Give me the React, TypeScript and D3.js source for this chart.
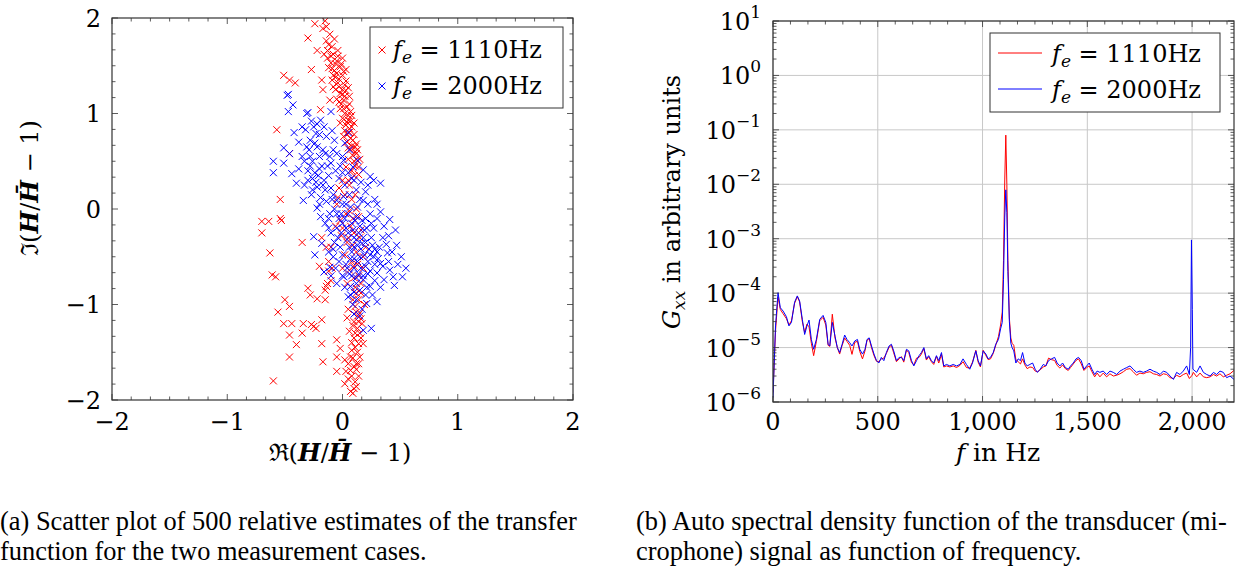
import React from "react"
import * as d3 from "d3"

// scatter: relative transfer function estimates [Re, Im]
const scatter1110: [number, number][] = [
  [-0.24, 1.94], [-0.15, 1.97], [-0.14, 1.91], [-0.17, 1.89], [-0.3, 1.79], [-0.14, 1.76], [-0.22, 1.66],
  [-0.16, 1.62], [-0.09, 1.7], [-0.08, 1.62], [0.0, 1.58], [-0.13, 1.58], [-0.1, 1.53], [-0.05, 1.55],
  [-0.12, 1.48], [-0.09, 1.47], [-0.05, 1.42], [-0.02, 1.49], [0.01, 1.44], [-0.06, 1.38], [-0.03, 1.36],
  [0.0, 1.4], [-0.27, 1.46], [-0.51, 1.4], [-0.46, 1.35], [-0.41, 1.32], [-0.18, 1.35], [-0.17, 1.25],
  [-0.04, 1.32], [-0.08, 1.28], [0.02, 1.3], [-0.02, 1.21], [0.03, 1.24], [0.06, 1.18], [-0.05, 1.15],
  [0.01, 1.14], [-0.11, 1.14], [0.04, 1.07], [-0.02, 1.05], [0.02, 1.0], [0.07, 1.02], [-0.19, 1.04],
  [0.05, 0.93], [0.0, 0.95], [0.08, 0.86], [0.03, 0.88], [0.06, 0.8], [0.01, 0.76], [0.09, 0.72],
  [0.04, 0.7], [-0.57, 0.83], [0.11, 0.65], [0.07, 0.62], [0.12, 0.58], [-0.46, 0.58], [0.14, 0.44],
  [0.1, 0.5], [0.05, 0.52], [-0.01, 1.1], [0.03, 1.34], [-0.07, 1.45], [0.05, 0.98],
  [-0.11, 1.83], [-0.07, 1.78], [-0.12, 1.72], [-0.04, 1.66], [-0.1, 1.6], [-0.06, 1.52], [-0.01, 1.52],
  [-0.08, 1.4], [0.03, 1.46], [-0.03, 1.28], [0.0, 1.25], [0.05, 1.27], [0.02, 1.18], [-0.03, 1.12],
  [0.06, 1.1], [0.01, 1.05], [0.08, 0.98], [0.04, 0.91], [0.1, 0.9], [0.06, 0.84], [0.02, 0.82],
  [0.1, 0.78], [0.07, 0.74], [0.12, 0.68], [0.05, 0.64], [0.13, 0.62], [0.09, 0.56], [0.15, 0.52],
  [0.11, 0.45], [0.08, 0.4], [0.14, 0.36], [0.03, 0.44], [-0.06, 1.25], [0.0, 1.2], [-0.02, 0.9],
  [0.04, 0.78], [0.08, 0.66], [0.11, 0.6], [0.12, 0.52], [-0.09, 1.35], [-0.04, 1.6], [-0.13, 1.66],
  [0.07, 0.92],
  [0.1, 0.35], [0.06, 0.25], [-0.03, 0.22], [0.02, 0.15], [0.08, 0.1], [-0.05, 0.05], [0.12, 0.0],
  [0.03, -0.05], [-0.02, -0.12], [0.07, -0.18], [0.1, -0.25], [0.15, -0.3], [0.04, -0.35], [-0.1, -0.4],
  [0.12, -0.45], [0.18, -0.5], [0.08, -0.55], [0.0, -0.62], [-0.12, -0.65], [0.14, -0.7], [-0.1, -0.75],
  [0.11, -0.82], [0.16, -0.88], [-0.14, -0.81], [0.09, -0.95], [-0.14, -0.4], [-0.12, -0.55],
  [-0.09, -0.62], [-0.13, -0.78], [-0.15, -0.85], [0.05, 0.3], [0.09, -0.1], [-0.01, -0.28],
  [0.0, 0.3], [0.11, 0.15], [-0.04, 0.12], [0.06, -0.02], [0.14, -0.08], [0.0, -0.2], [0.16, -0.22],
  [0.05, -0.3], [-0.06, -0.18], [0.09, -0.38], [0.2, -0.4], [0.02, -0.48], [0.13, -0.58], [0.06, -0.64],
  [0.18, -0.62], [0.1, -0.72], [0.04, -0.78], [-0.2, -0.6], [-0.18, -0.3], [0.1, -0.6], [0.16, -0.78],
  [-0.54, 0.1], [-0.7, -0.13], [-0.64, -0.13], [-0.53, -0.12], [-0.54, -0.1], [-0.7, -0.25],
  [-0.63, -0.46], [-0.61, -0.69], [-0.58, -0.71], [-0.35, -0.35], [-0.5, -0.95], [-0.46, -1.02],
  [-0.56, -1.08], [-0.3, -0.83], [-0.28, -0.9], [-0.22, -0.94], [-0.15, -0.95], [-0.51, -1.2],
  [-0.44, -1.2], [-0.34, -1.2], [-0.27, -1.21], [-0.23, -1.25], [-0.18, -1.16], [-0.46, -1.32],
  [-0.35, -1.3], [-0.4, -1.42], [-0.46, -1.55], [-0.6, -1.8], [-0.18, -1.41], [-0.05, -1.37],
  [-0.02, -1.46], [-0.17, -1.6], [-0.05, -1.7], [-0.25, -1.23], [-0.05, -1.55],
  [0.02, -1.58], [0.07, -1.69], [0.09, -1.56], [0.02, -1.83], [0.07, -1.91], [0.11, -1.81],
  [0.12, -1.62], [0.14, -1.41], [0.18, -1.41], [0.15, -1.3], [0.14, -1.18], [0.04, -1.14],
  [0.11, -1.02], [0.15, -1.09], [0.12, -0.88], [0.09, -1.22], [0.13, -1.5], [0.08, -1.75],
  [0.1, -1.88], [0.05, -1.05], [0.17, -1.2], [0.1, -1.35], [0.06, -1.28], [0.12, -1.68], [0.08, -1.48],
  [0.14, -0.95], [0.19, -1.0], [0.12, -1.08], [0.16, -1.15], [0.1, -1.18], [0.13, -1.25], [0.08, -1.4],
  [0.16, -1.35], [0.11, -1.45], [0.15, -1.55], [0.05, -1.62], [0.1, -1.65], [0.14, -1.75], [0.05, -1.78],
  [0.09, -1.93], [0.12, -1.86], [0.13, -1.12], [0.11, -1.3], [0.14, -1.62], [0.07, -1.55], [0.03, -1.7],
]

const scatter2000: [number, number][] = [
  [-0.48, 1.19], [-0.47, 1.2], [-0.43, 1.09], [-0.47, 1.02], [-0.31, 1.0], [-0.3, 1.01], [-0.19, 0.93],
  [-0.35, 0.86], [-0.32, 0.83], [-0.25, 0.86], [-0.22, 0.89], [-0.16, 0.86], [-0.1, 1.02], [-0.51, 0.64],
  [-0.46, 0.58], [-0.6, 0.5], [-0.51, 0.48], [-0.6, 0.38], [-0.44, 0.37], [-0.4, 0.27], [-0.34, 0.09],
  [-0.27, 0.15], [-0.22, 0.23], [-0.16, 0.3], [-0.28, 0.72], [-0.24, 0.69], [-0.17, 0.62], [-0.14, 0.76],
  [-0.11, 0.55], [0.02, 0.69], [0.06, 0.62], [0.01, 0.51], [0.13, 0.51], [0.18, 0.41], [0.24, 0.34],
  [0.33, 0.27], [0.27, 0.3], [-0.22, 0.01], [-0.19, -0.08], [-0.25, -0.29], [-0.18, -0.36],
  [-0.24, -0.48], [-0.11, -0.05], [-0.05, 0.09], [0.01, 0.13], [0.07, 0.02], [0.13, 0.02], [0.18, 0.09],
  [0.24, -0.05], [0.33, -0.03], [0.41, -0.11], [0.46, -0.22], [0.36, -0.18], [0.39, -0.46],
  [0.33, -0.57], [0.41, -0.64], [0.44, -0.71], [0.52, -0.71], [0.51, -0.5], [-0.16, -0.66],
  [-0.11, -0.61], [-0.05, -0.78], [0.01, -0.71], [0.07, -0.81], [0.12, -0.78], [0.18, -0.74],
  [0.24, -0.81], [0.3, -0.67], [0.05, -0.92], [0.12, -0.95], [0.21, -0.99], [0.3, -0.97],
  [0.18, -1.27], [0.25, -1.25], [-0.05, -0.2], [0.0, -0.15], [0.05, -0.25], [0.1, -0.3], [0.15, -0.18],
  [0.2, -0.35], [-0.02, -0.4], [0.08, -0.45], [0.15, -0.5], [0.22, -0.55], [0.03, -0.58], [-0.08, -0.5],
  [0.1, -0.62], [0.25, -0.3], [-0.1, -0.25], [-0.15, -0.15], [-0.2, 0.05], [-0.08, 0.15], [0.02, 0.25],
  [-0.12, 0.35], [-0.18, 0.45], [-0.06, 0.4], [0.05, 0.38], [0.12, 0.2], [0.2, 0.18], [0.28, 0.1],
  [0.3, -0.1], [0.2, -0.1], [0.05, -0.05], [-0.3, 0.4], [-0.35, 0.55], [-0.26, 0.5], [-0.2, 0.55],
  [-0.38, 0.7], [-0.29, 0.62], [-0.13, 0.45], [-0.03, 0.32], [0.09, 0.44], [0.16, 0.28], [0.22, 0.05],
  [0.35, -0.3], [0.28, -0.42], [0.16, -0.62], [0.06, -0.68], [-0.03, -0.55], [0.13, -0.38],
  [0.19, -0.22], [0.27, -0.2], [0.38, -0.37], [0.31, -0.52], [0.24, -0.65], [0.1, -0.87], [0.17, -1.05],
  [-0.07, -0.35], [-0.12, -0.1], [-0.26, 0.32], [-0.33, 0.25], [-0.08, 0.62], [0.0, 0.05], [0.11, -0.12],
  [-0.28, 0.45], [-0.24, 0.38], [-0.3, 0.3], [-0.21, 0.35], [-0.26, 0.2], [-0.15, 0.2], [-0.19, 0.12],
  [-0.1, 0.22], [-0.14, 0.08], [-0.07, 0.0], [-0.03, -0.1], [0.03, -0.2], [0.08, -0.15], [0.14, -0.25],
  [0.12, -0.08], [0.18, -0.3], [0.23, -0.42], [0.04, -0.32], [-0.04, -0.3], [0.0, -0.48], [0.07, -0.52],
  [0.13, -0.55], [0.19, -0.48], [0.27, -0.5], [0.2, -0.6], [0.14, -0.68], [0.08, -0.7], [0.02, -0.82],
  [0.15, -0.85], [0.21, -0.82], [0.26, -0.9], [0.09, -1.0], [-0.1, -0.7], [-0.12, -0.45], [-0.06, -0.62],
  [0.32, -0.4], [0.35, -0.6], [0.28, -0.75], [0.4, -0.28], [0.25, -0.15], [0.3, 0.05], [0.22, 0.25],
  [0.15, 0.1], [0.1, 0.3], [0.06, 0.15], [-0.02, 0.45], [-0.05, 0.58], [-0.2, 0.78], [-0.33, 0.5],
  [-0.38, 0.42], [-0.27, 0.92], [-0.23, 0.79], [0.05, 0.8], [-0.07, 0.72], [0.0, 0.55], [0.1, -0.4],
  [0.16, -0.42], [-0.01, -0.05], [0.28, -0.58], [0.36, -0.74], [0.47, -0.38], [0.55, -0.62],
  [0.45, -0.8], [0.15, -1.12], [0.1, -1.1],
  [0.02, -0.1], [0.09, -0.22], [0.17, -0.12], [0.21, -0.2], [0.26, -0.38], [0.12, -0.32], [0.06, -0.4],
  [-0.01, -0.25], [0.17, -0.36], [0.24, -0.48], [0.3, -0.45], [0.1, -0.52], [0.04, -0.62], [0.18, -0.7],
  [0.22, -0.68], [0.12, -0.72], [0.07, -0.9], [0.2, -0.9], [-0.09, 0.1], [-0.17, 0.25], [-0.23, 0.28],
  [-0.2, 0.42], [-0.1, 0.48], [-0.15, 0.58], [-0.28, 0.55], [-0.31, 0.65], [-0.22, 0.65], [-0.42, 0.8],
  [-0.09, 0.82], [0.0, 0.38], [0.08, 0.32], [0.03, 0.05], [-0.05, -0.05], [-0.12, -0.2], [-0.08, -0.42],
  [0.0, -0.7], [0.33, -0.82], [0.4, -0.55], [0.43, -0.45], [0.48, -0.58],
]

// spectra: [f in Hz, G_xx]
const spectrum1110: [number, number][] = [
  [0, 1.5e-6], [12, 2.0e-5], [24, 8.5e-5], [35, 5.0e-5], [48, 4.2e-5], [64, 3.4e-5], [76, 2.6e-5],
  [88, 3.1e-5], [103, 6.5e-5], [116, 8.6e-5], [127, 6.9e-5], [140, 3.0e-5], [151, 1.9e-5], [162, 2.7e-5],
  [172, 2.4e-5], [183, 1.2e-5], [194, 7.1e-6], [207, 1.3e-5], [223, 3.1e-5], [239, 3.6e-5], [252, 2.6e-5],
  [263, 1.1e-5], [271, 1.05e-5], [283, 4.1e-5], [296, 1.5e-5], [307, 1.0e-5], [318, 7.6e-6], [330, 1.1e-5],
  [342, 1.5e-5], [353, 1.3e-5], [366, 1.1e-5], [377, 7.5e-6], [390, 1.25e-5], [403, 1.3e-5], [414, 8.5e-6],
  [427, 6.2e-6], [439, 8.7e-6], [449, 1.38e-5], [459, 1.45e-5], [470, 1.0e-5], [482, 7.1e-6], [494, 5.6e-6],
  [505, 5.5e-6], [517, 6.2e-6], [529, 6.4e-6], [541, 7.8e-6], [554, 1.02e-5], [565, 1.1e-5], [576, 8.0e-6],
  [589, 5.5e-6], [602, 6.2e-6], [613, 6.8e-6], [624, 5.4e-6], [637, 9.0e-6], [648, 8.1e-6], [661, 5.3e-6],
  [672, 4.8e-6], [685, 6.4e-6], [697, 6.6e-6], [708, 7.6e-6], [720, 9.5e-6], [732, 5.9e-6], [743, 6.8e-6],
  [756, 5.5e-6], [767, 4.9e-6], [780, 6.9e-6], [791, 5.2e-6], [804, 7.5e-6], [815, 4.4e-6], [828, 4.6e-6],
  [844, 4.4e-6], [860, 4.6e-6], [876, 4.3e-6], [892, 4.7e-6], [907, 5.5e-6], [923, 4.3e-6], [939, 4.2e-6],
  [952, 5.4e-6], [968, 8.9e-6], [979, 5.4e-6], [990, 4.4e-6], [1003, 8.9e-6], [1016, 7.1e-6], [1027, 6.0e-6],
  [1038, 6.2e-6], [1051, 7.8e-6], [1063, 1.1e-5], [1076, 1.6e-5], [1086, 2.6e-5], [1094, 4.5e-5],
  [1100, 4.0e-4], [1106, 1.2e-2], [1111, 8.0e-2], [1116, 1.0e-2], [1121, 4.0e-4], [1128, 3.5e-5],
  [1135, 1.5e-5], [1141, 1.2e-5], [1149, 1.1e-5], [1159, 6.0e-6], [1170, 5.5e-6], [1181, 5.0e-6],
  [1191, 6.2e-6], [1202, 4.8e-6], [1213, 4.1e-6], [1226, 4.4e-6], [1239, 4.3e-6], [1251, 3.7e-6],
  [1262, 3.6e-6], [1275, 3.9e-6], [1290, 4.4e-6], [1302, 4.6e-6], [1315, 6.4e-6], [1329, 6.0e-6],
  [1344, 5.8e-6], [1356, 4.7e-6], [1369, 4.2e-6], [1382, 4.8e-6], [1395, 4.1e-6], [1409, 3.8e-6],
  [1420, 4.3e-6], [1433, 5.0e-6], [1446, 5.8e-6], [1458, 6.2e-6], [1471, 5.0e-6], [1484, 3.8e-6],
  [1497, 4.3e-6], [1509, 4.6e-6], [1522, 3.6e-6], [1535, 2.9e-6], [1547, 3.4e-6], [1560, 2.9e-6],
  [1576, 3.4e-6], [1592, 2.9e-6], [1608, 3.3e-6], [1624, 3.0e-6], [1640, 3.1e-6], [1656, 3.3e-6],
  [1672, 3.6e-6], [1688, 4.0e-6], [1704, 4.1e-6], [1719, 3.6e-6], [1735, 3.1e-6], [1751, 3.4e-6],
  [1767, 3.3e-6], [1783, 3.5e-6], [1799, 3.6e-6], [1815, 3.3e-6], [1831, 3.2e-6], [1847, 3.0e-6],
  [1863, 3.3e-6], [1879, 3.2e-6], [1895, 2.8e-6], [1911, 2.7e-6], [1926, 3.1e-6], [1942, 2.9e-6],
  [1958, 3.2e-6], [1974, 3.4e-6], [1987, 2.7e-6], [2000, 3.1e-6], [2006, 3.5e-6], [2022, 2.9e-6],
  [2038, 3.4e-6], [2054, 2.9e-6], [2070, 2.8e-6], [2086, 2.9e-6], [2102, 3.2e-6], [2117, 3.0e-6],
  [2133, 3.3e-6], [2149, 2.9e-6], [2165, 3.1e-6], [2181, 3.3e-6], [2200, 3.8e-6],
]

const spectrum2000: [number, number][] = [
  [0, 1.2e-6], [12, 2.5e-5], [24, 1.02e-4], [35, 5.4e-5], [48, 4.7e-5], [64, 3.7e-5], [76, 2.5e-5],
  [88, 2.9e-5], [103, 6.8e-5], [116, 8.9e-5], [127, 7.2e-5], [140, 3.3e-5], [151, 1.74e-5], [162, 2.5e-5],
  [172, 3.2e-5], [183, 1.41e-5], [194, 9.3e-6], [207, 1.41e-5], [223, 3.3e-5], [239, 3.9e-5], [252, 2.9e-5],
  [263, 1.15e-5], [271, 1.07e-5], [283, 2.9e-5], [296, 1.62e-5], [307, 1.0e-5], [318, 8.1e-6], [330, 1.15e-5],
  [342, 1.7e-5], [353, 1.41e-5], [366, 1.23e-5], [377, 1.07e-5], [390, 1.32e-5], [403, 1.41e-5],
  [414, 9.3e-6], [427, 7.6e-6], [439, 9.3e-6], [449, 1.41e-5], [459, 1.51e-5], [470, 1.07e-5], [482, 7.6e-6],
  [494, 5.75e-6], [505, 5.2e-6], [517, 6.6e-6], [529, 5.75e-6], [541, 8.1e-6], [554, 1.07e-5], [565, 1.15e-5],
  [576, 8.7e-6], [589, 5.75e-6], [602, 6.6e-6], [613, 6.6e-6], [624, 5.75e-6], [637, 9.3e-6], [648, 8.7e-6],
  [661, 5.75e-6], [672, 4.6e-6], [685, 5.75e-6], [697, 7.1e-6], [708, 8.1e-6], [720, 1.0e-5], [732, 6.2e-6],
  [743, 7.1e-6], [756, 5.75e-6], [767, 5.2e-6], [780, 7.1e-6], [791, 5.75e-6], [804, 8.1e-6], [815, 4.6e-6],
  [828, 4.9e-6], [844, 4.6e-6], [860, 4.9e-6], [876, 4.6e-6], [892, 4.9e-6], [907, 6.2e-6], [923, 4.9e-6],
  [939, 4.0e-6], [952, 5.2e-6], [968, 8.7e-6], [979, 5.75e-6], [990, 4.6e-6], [1003, 8.7e-6], [1016, 7.6e-6],
  [1027, 6.2e-6], [1038, 6.6e-6], [1051, 8.1e-6], [1063, 1.15e-5], [1076, 1.41e-5], [1086, 2.2e-5],
  [1094, 2.9e-5], [1100, 1.8e-4], [1106, 2.5e-3], [1111, 7.9e-3], [1116, 3.0e-3], [1121, 2.5e-4],
  [1128, 3.0e-5], [1135, 1.2e-5], [1141, 1.0e-5], [1149, 8.7e-6], [1159, 5.2e-6], [1170, 6.2e-6],
  [1181, 5.75e-6], [1191, 8.1e-6], [1202, 5.2e-6], [1213, 4.6e-6], [1226, 4.9e-6], [1239, 5.2e-6],
  [1251, 4.0e-6], [1262, 3.5e-6], [1275, 4.0e-6], [1290, 4.9e-6], [1302, 4.6e-6], [1315, 5.75e-6],
  [1329, 6.2e-6], [1344, 6.6e-6], [1356, 5.2e-6], [1369, 4.6e-6], [1382, 5.2e-6], [1395, 4.3e-6],
  [1409, 4.0e-6], [1420, 4.6e-6], [1433, 5.2e-6], [1446, 6.2e-6], [1458, 6.6e-6], [1471, 5.75e-6],
  [1484, 4.0e-6], [1497, 4.6e-6], [1509, 5.2e-6], [1522, 4.0e-6], [1535, 3.2e-6], [1547, 3.7e-6],
  [1560, 3.5e-6], [1576, 3.7e-6], [1592, 3.2e-6], [1608, 3.7e-6], [1624, 3.5e-6], [1640, 3.2e-6],
  [1656, 3.7e-6], [1672, 4.0e-6], [1688, 4.3e-6], [1704, 4.6e-6], [1719, 4.0e-6], [1735, 3.5e-6],
  [1751, 3.7e-6], [1767, 3.5e-6], [1783, 3.7e-6], [1799, 4.0e-6], [1815, 3.7e-6], [1831, 3.5e-6],
  [1847, 3.2e-6], [1863, 3.7e-6], [1879, 3.5e-6], [1895, 3.0e-6], [1911, 2.6e-6], [1926, 3.5e-6],
  [1942, 3.2e-6], [1958, 3.7e-6], [1974, 4.6e-6], [1987, 3.2e-6], [1993, 1.0e-5], [1997, 9.5e-4],
  [2001, 5.0e-5], [2004, 4.0e-6], [2022, 3.5e-6], [2038, 4.6e-6], [2054, 3.5e-6], [2070, 3.2e-6],
  [2086, 3.0e-6], [2102, 3.5e-6], [2117, 3.2e-6], [2133, 3.7e-6], [2149, 3.5e-6], [2165, 2.8e-6],
  [2181, 3.0e-6], [2200, 2.6e-6],
]

const scatterTicks = [-2, -1, 0, 1, 2]
const freqTicks = [0, 500, 1000, 1500, 2000]
const decadeExps = [-6, -5, -4, -3, -2, -1, 0, 1]
const legendLabels = ["1110Hz", "2000Hz"]
const captionA = ["(a) Scatter plot of 500 relative estimates of the transfer", "function for the two measurement cases."]
const captionB = ["(b) Auto spectral density function of the transducer (mi-", "crophone) signal as function of frequency."]

// plot texts imitate Computer Modern (wide serif), captions are Times
const MATH = { fontFamily: "'DejaVu Serif', serif" }
const TIMES = { fontFamily: "'Liberation Serif', serif" }
const RED = "#ff0000"
const BLUE = "#0000ff"
const FRAME = "#333"
const MINUS = "\u2212"

const Cross = ({ x, y, color }: { x: number; y: number; color: string }) => {
  const s = 3.5
  return (
    <path d={`M${x - s},${y - s}L${x + s},${y + s}M${x - s},${y + s}L${x + s},${y - s}`} stroke={color} strokeWidth={1} fill="none" />
  )
}

const LegendLabel = ({ x, y, value }: { x: number; y: number; value: string }) => (
  <text x={x} y={y} style={MATH} fontSize={24}>
    <tspan fontStyle="italic">f</tspan>
    <tspan fontStyle="italic" fontSize={17} dy={5}>e</tspan>
    <tspan dy={-5}>{" = " + value}</tspan>
  </text>
)

function ScatterPanel() {
  const x = d3.scaleLinear().domain([-2, 2]).range([112, 573])
  const y = d3.scaleLinear().domain([-2, 2]).range([400, 18])
  const [x0, x1] = x.range()
  const [y0, y1] = y.range()
  const minor = d3.range(-2, 2.001, 1 / 6).filter(v => Math.abs(v - Math.round(v)) > 0.01)
  const fmt = (v: number) => (v < 0 ? MINUS + Math.abs(v) : String(v))

  return (
    <g>
      <defs>
        <clipPath id="clipA">
          <rect x={x0} y={y1} width={x1 - x0} height={y0 - y1} />
        </clipPath>
      </defs>
      <g clipPath="url(#clipA)">
        {scatter1110.map((d, i) => <Cross key={"r" + i} x={x(d[0])} y={y(d[1])} color={RED} />)}
        {scatter2000.map((d, i) => <Cross key={"b" + i} x={x(d[0])} y={y(d[1])} color={BLUE} />)}
      </g>
      <g stroke={FRAME} strokeWidth={0.8}>
        {minor.map(v => (
          <g key={"m" + v}>
            <line x1={x(v)} x2={x(v)} y1={y0} y2={y0 - 3.5} />
            <line x1={x(v)} x2={x(v)} y1={y1} y2={y1 + 3.5} />
            <line x1={x0} x2={x0 + 3.5} y1={y(v)} y2={y(v)} />
            <line x1={x1} x2={x1 - 3.5} y1={y(v)} y2={y(v)} />
          </g>
        ))}
        {scatterTicks.map(v => (
          <g key={"M" + v}>
            <line x1={x(v)} x2={x(v)} y1={y0} y2={y0 - 6} />
            <line x1={x(v)} x2={x(v)} y1={y1} y2={y1 + 6} />
            <line x1={x0} x2={x0 + 6} y1={y(v)} y2={y(v)} />
            <line x1={x1} x2={x1 - 6} y1={y(v)} y2={y(v)} />
          </g>
        ))}
      </g>
      <rect x={x0} y={y1} width={x1 - x0} height={y0 - y1} fill="none" stroke={FRAME} strokeWidth={1.2} />
      <g style={MATH} fontSize={24}>
        {scatterTicks.map(v => (
          <text key={"xt" + v} x={x(v)} y={430} textAnchor="middle">{fmt(v)}</text>
        ))}
        {scatterTicks.map(v => (
          <text key={"yt" + v} x={101} y={y(v)} dy="0.36em" textAnchor="end">{fmt(v)}</text>
        ))}
      </g>
      <text x={340} y={461} style={MATH} fontSize={24} textAnchor="middle">
        {"\u211C("}
        <tspan fontWeight="bold" fontStyle="italic">H</tspan>
        {"/"}
        <tspan fontWeight="bold" fontStyle="italic">{"H\u0304"}</tspan>
        {" " + MINUS + " 1)"}
      </text>
      <text transform="translate(38,188) rotate(-90)" style={MATH} fontSize={24} textAnchor="middle">
        {"\u2111("}
        <tspan fontWeight="bold" fontStyle="italic">H</tspan>
        {"/"}
        <tspan fontWeight="bold" fontStyle="italic">{"H\u0304"}</tspan>
        {" " + MINUS + " 1)"}
      </text>
      <rect x={370} y={27} width={193} height={81} fill="white" stroke={FRAME} strokeWidth={1} />
      <Cross x={382} y={50} color={RED} />
      <Cross x={382} y={86} color={BLUE} />
      <LegendLabel x={393} y={58} value={legendLabels[0]} />
      <LegendLabel x={393} y={94} value={legendLabels[1]} />
    </g>
  )
}

function SpectrumPanel() {
  const x = d3.scaleLinear().domain([0, 2200]).range([773, 1234])
  const y = d3.scaleLog().domain([1e-6, 10]).range([402, 21])
  const [x0, x1] = x.range()
  const [y0, y1] = y.range()
  const line = d3.line<[number, number]>().x(d => x(d[0])).y(d => y(d[1]))
  const xMinor = d3.range(0, 2200.1, 500 / 6).filter(v => Math.abs(v / 500 - Math.round(v / 500)) > 0.01)
  const yMinor: number[] = []
  decadeExps.slice(0, -1).forEach(e => d3.range(2, 10).forEach(m => yMinor.push(m * Math.pow(10, e))))
  const fmt = d3.format(",")

  return (
    <g>
      <defs>
        <clipPath id="clipB">
          <rect x={x0} y={y1} width={x1 - x0} height={y0 - y1} />
        </clipPath>
      </defs>
      <g stroke="#c8c8c8" strokeWidth={1}>
        {freqTicks.map(v => <line key={"gx" + v} x1={x(v)} x2={x(v)} y1={y0} y2={y1} />)}
        {decadeExps.map(e => <line key={"gy" + e} x1={x0} x2={x1} y1={y(Math.pow(10, e))} y2={y(Math.pow(10, e))} />)}
      </g>
      <g clipPath="url(#clipB)" fill="none" strokeWidth={1}>
        <path d={line(spectrum1110) || ""} stroke={RED} />
        <path d={line(spectrum2000) || ""} stroke={BLUE} />
      </g>
      <g stroke={FRAME} strokeWidth={0.8}>
        {xMinor.map(v => (
          <g key={"xm" + v}>
            <line x1={x(v)} x2={x(v)} y1={y0} y2={y0 - 3.5} />
            <line x1={x(v)} x2={x(v)} y1={y1} y2={y1 + 3.5} />
          </g>
        ))}
        {freqTicks.map(v => (
          <g key={"xM" + v}>
            <line x1={x(v)} x2={x(v)} y1={y0} y2={y0 - 6} />
            <line x1={x(v)} x2={x(v)} y1={y1} y2={y1 + 6} />
          </g>
        ))}
        {yMinor.map(v => (
          <g key={"ym" + v}>
            <line x1={x0} x2={x0 + 3.5} y1={y(v)} y2={y(v)} />
            <line x1={x1} x2={x1 - 3.5} y1={y(v)} y2={y(v)} />
          </g>
        ))}
        {decadeExps.map(e => (
          <g key={"yM" + e}>
            <line x1={x0} x2={x0 + 6} y1={y(Math.pow(10, e))} y2={y(Math.pow(10, e))} />
            <line x1={x1} x2={x1 - 6} y1={y(Math.pow(10, e))} y2={y(Math.pow(10, e))} />
          </g>
        ))}
      </g>
      <rect x={x0} y={y1} width={x1 - x0} height={y0 - y1} fill="none" stroke={FRAME} strokeWidth={1.2} />
      <g style={MATH} fontSize={24}>
        {freqTicks.map(v => (
          <text key={"xt" + v} x={x(v)} y={430} textAnchor="middle">{fmt(v)}</text>
        ))}
        {decadeExps.map(e => (
          <text key={"yt" + e} x={761} y={y(Math.pow(10, e)) + 9} textAnchor="end">
            10
            <tspan fontSize={17} dy={-12}>{e < 0 ? MINUS + Math.abs(e) : String(e)}</tspan>
          </text>
        ))}
      </g>
      <text x={998} y={461} style={MATH} fontSize={25} textAnchor="middle">
        <tspan fontStyle="italic">f</tspan>
        {" in Hz"}
      </text>
      <text transform="translate(680,202) rotate(-90)" style={MATH} fontSize={24} textAnchor="middle">
        <tspan fontStyle="italic">G</tspan>
        <tspan fontStyle="italic" fontSize={17} dy={5}>xx</tspan>
        <tspan dy={-5}>{" in arbitrary units"}</tspan>
      </text>
      <rect x={990} y={33} width={230} height={79} fill="white" stroke={FRAME} strokeWidth={1} />
      <line x1={998} x2={1042} y1={53} y2={53} stroke={RED} strokeWidth={1} />
      <line x1={998} x2={1042} y1={89} y2={89} stroke={BLUE} strokeWidth={1} />
      <LegendLabel x={1052} y={62} value={legendLabels[0]} />
      <LegendLabel x={1052} y={98} value={legendLabels[1]} />
    </g>
  )
}

export default function App() {
  return (
    <svg width={1239} height={568} style={{ position: "absolute", left: 0, top: 0, background: "white" }}>
      <rect width={1239} height={568} fill="white" />
      <ScatterPanel />
      <SpectrumPanel />
      <g style={TIMES} fontSize={26.4}>
        {captionA.map((t, i) => <text key={"a" + i} x={0} y={530 + i * 30}>{t}</text>)}
        {captionB.map((t, i) => <text key={"b" + i} x={636} y={530 + i * 30}>{t}</text>)}
      </g>
    </svg>
  )
}
